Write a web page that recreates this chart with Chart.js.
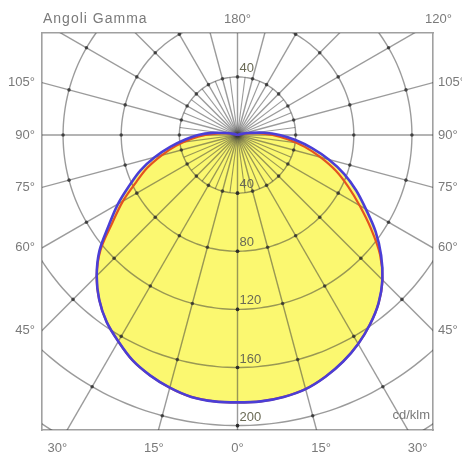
<!DOCTYPE html>
<html><head><meta charset="utf-8">
<script src="https://cdn.jsdelivr.net/npm/chart.js@4/dist/chart.umd.min.js"></script>
<style>html,body{margin:0;padding:0;background:#fff;overflow:hidden}</style>
</head><body>
<canvas id="c" width="462" height="455"></canvas>
<script>
// ---- data (cd/klm) ----
const gammaAngles    = [0,5,10,15,20,25,30,35,40,45,50,55,60,65,70,75,80,85,90,95,100,105,110];
const intensityC0    = [184,184,183,181,177,172,166,159,151,141,129,116,102,90,78,65,52,40,29,18,8,3,0];
const intensityC180  = [184,184,183,180,176,171,164,157,148,137,124,108,95,82,71,59,47,36,27,17,8,3,0];
const intensityC90   = [184,184,183,181,177,172,166,159,151,141,128,112,97,84,72,59,47,35,24,14,6,2,0];
const intensityC270  = [184,184,183,180,176,171,164,157,148,137,123,105,91,77,66,54,43,32,22,13,6,2,0];
const ringValues     = [40,80,120,160,200,240];
const ringLabels     = [40,80,120,160,200];
const majorRadialStep = 15;
const minorRadialStep = 7.5;
const sideTickAngles   = [105,90,75,60,45];
const bottomTickAngles = [-30,-15,0,15,30];
const topTickAngles    = [180,120];
const axisTitle = 'Angoli Gamma';
const unitLabel = 'cd/klm';

// view range (cd/klm units, pole at origin)
const X_MIN = -134.5, X_MAX = 134.5, Y_MIN = -203, Y_MAX = 70.2;

const rad = d => d * Math.PI / 180;
// gamma measured from straight down, positive to the right
const polar = (g, r) => ({x: r * Math.sin(rad(g)), y: -r * Math.cos(rad(g)), a: g});

function loop(right, left) {
  const pts = [];
  for (let i = gammaAngles.length - 1; i >= 0; i--) pts.push(polar(gammaAngles[i], right[i]));
  for (let i = 1; i < gammaAngles.length; i++) pts.push(polar(-gammaAngles[i], left[i]));
  return pts;
}

const GRID = 'rgba(55,55,55,0.5)';
const datasets = [];

datasets.push({ data: loop(intensityC0, intensityC180), showLine: true, fill: 'shape', backgroundColor: '#fbf870',
  borderWidth: 0, pointRadius: 0, tension: 0.35, order: 20, clip: 0 });

ringValues.forEach(v => {
  const pts = [];
  for (let a = 0; a <= 360; a += 2.5) pts.push(polar(a, v));
  datasets.push({ data: pts, showLine: true, borderColor: GRID, borderWidth: 1.4, tension: 0.3,
    pointRadius: c => (c.raw && c.raw.a % majorRadialStep === 0 ? 1.8 : 0),
    pointBackgroundColor: 'rgba(40,40,40,0.75)', pointBorderWidth: 0, order: 10, clip: 0 });
});
for (let a = 0; a < 360; a += minorRadialStep) {
  const major = a % majorRadialStep === 0;
  const len = major ? 400 : ringValues[0];
  datasets.push({ data: [polar(a, 0), polar(a, len)], showLine: true, borderColor: GRID,
    borderWidth: major ? 1.4 : 1.1, pointRadius: 0, order: 10, clip: 0 });
}
datasets.push({ data: loop(intensityC90, intensityC270), showLine: true, fill: false, borderColor: '#e4531f',
  borderWidth: 2.2, pointRadius: 0, tension: 0.35, order: 2, clip: 0 });
datasets.push({ data: loop(intensityC0, intensityC180), showLine: true, fill: false, borderColor: '#4b3ed6',
  borderWidth: 2.6, pointRadius: 0, tension: 0.35, order: 1, clip: 0 });

const FONT = {family: '"Liberation Sans", Arial, sans-serif', size: 13};
const TXT = '#7a7a7a';
const BORDER = {display: true, color: '#a0a0a0', width: 1.6};
const sideTicks = scale => { scale.ticks = sideTickAngles.map(g => ({value: -X_MAX / Math.tan(rad(g))})); };

const labelsPlugin = {
  id: 'labels',
  afterDraw(chart) {
    const {ctx, chartArea, scales} = chart;
    const xs = scales.x, ys = scales.y;
    ctx.save();
    ctx.font = `${FONT.size}px ${FONT.family}`;
    ctx.fillStyle = TXT;
    ctx.textBaseline = 'middle';
    const topY = chartArea.top - 14;
    const lvl = ys.getValueForPixel(topY);
    ctx.textAlign = 'left';
    ctx.save();
    ctx.font = `14px ${FONT.family}`;
    ctx.letterSpacing = '1px';
    ctx.fillText(axisTitle, chartArea.left + 1, topY);
    ctx.restore();
    ctx.textAlign = 'center';
    topTickAngles.forEach(g => {
      const x = lvl * Math.tan(rad(180 - g));
      ctx.fillText(g + '°', xs.getPixelForValue(x), topY);
    });
    ctx.textAlign = 'right';
    ctx.fillText(unitLabel, chartArea.right - 3, chartArea.bottom - 15);
    ctx.textAlign = 'left';
    ctx.textBaseline = 'bottom';
    ctx.fillStyle = '#6a6a55';
    const x0 = xs.getPixelForValue(0) + 2;
    ctx.fillText(String(ringLabels[0]), x0, ys.getPixelForValue(ringLabels[0]) - 2);
    ringLabels.forEach(v => ctx.fillText(String(v), x0, ys.getPixelForValue(-v) - 2));
    ctx.restore();
  }
};

new Chart(document.getElementById('c'), {
  type: 'scatter',
  data: { datasets },
  options: {
    responsive: false, animation: false, events: [],
    layout: { padding: 0 },
    plugins: { legend: {display: false}, tooltip: {enabled: false}, title: {display: false} },
    scales: {
      x: { type: 'linear', position: 'bottom', min: X_MIN, max: X_MAX,
        grid: {display: false, drawTicks: false}, border: BORDER,
        afterBuildTicks: s => { s.ticks = bottomTickAngles.map(g => ({value: -Y_MIN * 1.057 * Math.tan(rad(g))})); },
        afterFit: s => { s.height = 25; },
        ticks: { autoSkip: false, maxRotation: 0, padding: 11, color: TXT, font: FONT,
          callback: (v, i) => Math.abs(bottomTickAngles[i]) + '°' } },
      xTop: { type: 'linear', position: 'top', min: X_MIN, max: X_MAX,
        grid: {display: false, drawTicks: false}, border: BORDER, ticks: {display: false},
        afterFit: s => { s.height = 33; } },
      y: { type: 'linear', position: 'left', min: Y_MIN, max: Y_MAX,
        grid: {display: false, drawTicks: false}, border: BORDER,
        afterBuildTicks: sideTicks, afterFit: s => { s.width = 42; },
        ticks: { autoSkip: false, padding: 7, color: TXT, font: FONT,
          callback: (v, i) => sideTickAngles[i] + '°' } },
      yRight: { type: 'linear', position: 'right', min: Y_MIN, max: Y_MAX,
        grid: {display: false, drawTicks: false}, border: BORDER,
        afterBuildTicks: sideTicks, afterFit: s => { s.width = 29; },
        ticks: { autoSkip: false, padding: 5, color: TXT, font: FONT,
          callback: (v, i) => sideTickAngles[i] + '°' } }
    }
  },
  plugins: [labelsPlugin]
});
</script>
</body></html>
